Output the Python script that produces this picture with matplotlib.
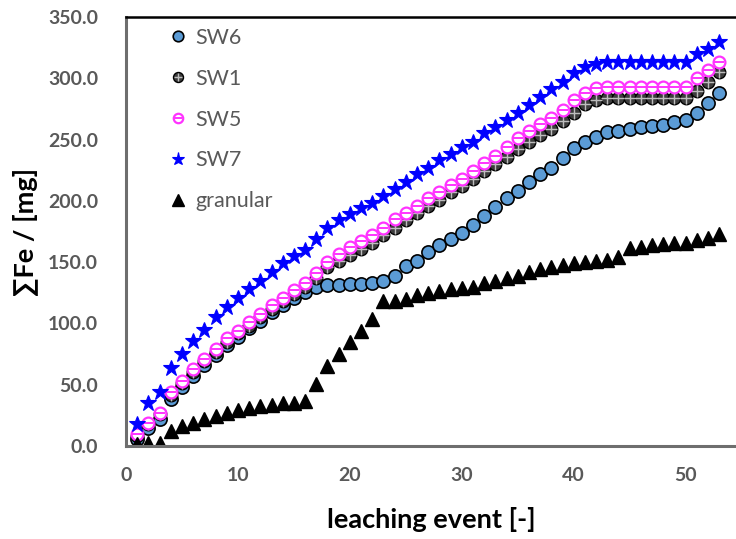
import matplotlib
matplotlib.use("Agg")
import matplotlib.pyplot as plt
import numpy as np

plt.rcParams['font.family'] = ['Lato', 'DejaVu Sans']

# leaching events 1..53
events = list(range(1, 54))

sw6 = [6, 15, 22, 38, 48, 57, 66, 74, 82, 89, 96, 102, 109, 115, 121, 126, 130,
       131, 131, 132, 132, 133, 135, 139, 147, 151, 158, 164, 169, 174, 180, 188,
       195, 202, 208, 215, 222, 227, 235, 243, 248, 252, 256, 257, 259, 260, 261,
       262, 264, 266, 272, 280, 288]

sw1 = [8, 18, 26, 42, 51, 60, 69, 77, 85, 92, 98, 105, 112, 118, 124, 130, 137,
       146, 151, 156, 161, 166, 172, 178, 184, 190, 196, 201, 207, 212, 218, 224,
       230, 236, 242, 248, 254, 259, 265, 272, 279, 282, 284, 284, 284, 284, 284,
       284, 284, 284, 290, 297, 305]

sw5 = [10, 19, 27, 44, 53, 63, 71, 79, 88, 94, 101, 108, 115, 121, 127, 133, 141,
       150, 157, 162, 167, 172, 178, 185, 190, 196, 202, 207, 213, 218, 224, 231,
       237, 244, 251, 257, 263, 268, 274, 282, 288, 292, 293, 293, 293, 293, 293,
       293, 293, 293, 300, 307, 313]

sw7 = [18, 35, 44, 64, 75, 86, 95, 105, 113, 121, 128, 135, 142, 149, 155, 160,
       169, 178, 184, 189, 194, 198, 204, 210, 215, 222, 227, 233, 238, 244, 248,
       255, 260, 266, 272, 278, 285, 291, 297, 304, 309, 312, 313, 313, 313, 313,
       313, 313, 313, 313, 320, 324, 330]

granular = [1.5, 2.7, 2.7, 12, 16, 19, 22, 24.5, 27, 29, 31, 32.7, 33.5, 35.4,
            35.4, 36.8, 50.4, 65.4, 75, 84.5, 94, 103.6, 118.6, 118.6, 120, 123,
            125, 126.6, 127.7, 128.5, 130, 132.7, 134.9, 136.8, 138.7, 142, 144.8,
            146, 147.5, 148.9, 150, 151, 152, 154, 161.6, 162, 163.6, 165, 165.5,
            166, 168, 170, 173]

fig = plt.figure(figsize=(7.36, 5.39), dpi=100)
ax = fig.add_axes([126 / 736, 93 / 539, 610 / 736, 429 / 539])

h6, = ax.plot(events, sw6, 'o', ms=9.5, mfc='#5B9BD5', mec='black', mew=1.2, ls='none')
h1a, = ax.plot(events, sw1, 'o', ms=9, mfc='#3c3c3c', mec='black', mew=1.0, ls='none')
h1b, = ax.plot(events, sw1, '+', ms=8, mec='#bdbdbd', mew=1.0, ls='none')
h5a, = ax.plot(events, sw5, 'o', ms=8.5, mfc='white', mec='#FF33FF', mew=1.6, ls='none')
h5b, = ax.plot(events, sw5, '_', ms=7, mec='#FF33FF', mew=1.4, ls='none')
h7, = ax.plot(events, sw7, '*', ms=12, mfc='#0000FF', mec='#0000FF', mew=0.8, ls='none')
hg, = ax.plot(events, granular, '^', ms=10, mfc='black', mec='black', ls='none')

ax.set_xlim(0, 54.5)
ax.set_ylim(0, 350)
ax.set_xticks([0, 10, 20, 30, 40, 50])
ax.set_yticks(np.arange(0, 351, 50))
ax.set_yticklabels(['%.1f' % v for v in np.arange(0, 351, 50)])
ax.tick_params(length=0, labelsize=14, labelcolor='#595959')
ax.tick_params(axis='x', pad=15)
ax.tick_params(axis='y', pad=20)
for lab in ax.get_xticklabels() + ax.get_yticklabels():
    lab.set_fontweight('bold')

ax.spines['right'].set_visible(False)
ax.spines['top'].set_color('black')
ax.spines['top'].set_linewidth(1.8)
for s in ['left', 'bottom']:
    ax.spines[s].set_color('#6e6e6e')
    ax.spines[s].set_linewidth(2.2)

ax.set_xlabel('leaching event [-]', fontsize=19.5, fontweight='bold', labelpad=17)
ax.set_ylabel('∑Fe / [mg]', fontsize=19.5, fontweight='bold', labelpad=7)

leg = ax.legend([h6, (h1a, h1b), (h5a, h5b), h7, hg],
                ['SW6', 'SW1', 'SW5', 'SW7', 'granular'],
                loc='upper left', bbox_to_anchor=(0.04, 1.02), frameon=False,
                fontsize=15.5, labelspacing=0.97, handlelength=0.8,
                handletextpad=0.4, markerscale=0.8)
for t in leg.get_texts():
    t.set_color('#595959')

fig.savefig('out.png', dpi=100)
